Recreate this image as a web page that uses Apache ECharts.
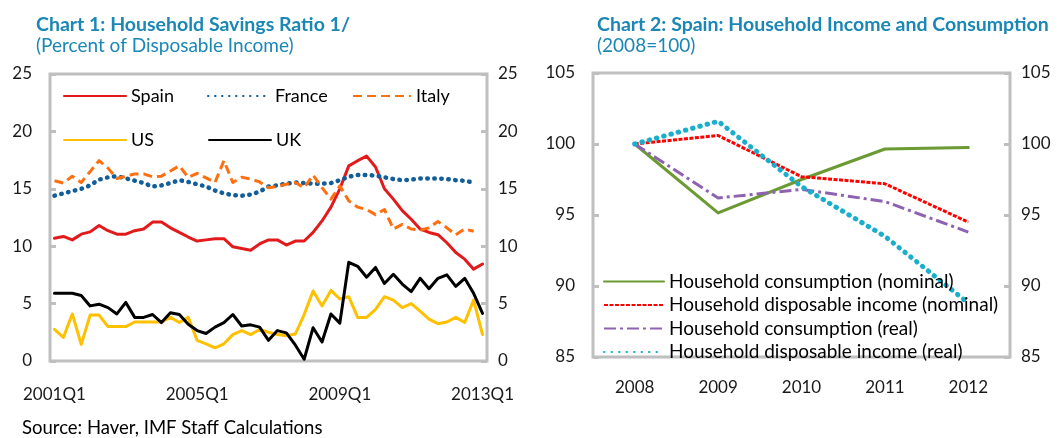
<!DOCTYPE html>
<html>
<head>
<meta charset="utf-8">
<title>Household Savings / Spain Income and Consumption</title>
<script src="https://cdn.jsdelivr.net/npm/echarts@6/dist/echarts.min.js"></script>
<style>
    html, body { margin: 0; padding: 0; background: #fff; }
    #chart { width: 1062px; height: 438px; }
</style>
</head>
<body>
<div id="chart"></div>
<script>
// chart 1: quarterly savings ratio, 2001Q1 - 2013Q1
var quarters = [
    '2001Q1','2001Q2','2001Q3','2001Q4','2002Q1','2002Q2','2002Q3','2002Q4',
    '2003Q1','2003Q2','2003Q3','2003Q4','2004Q1','2004Q2','2004Q3','2004Q4',
    '2005Q1','2005Q2','2005Q3','2005Q4','2006Q1','2006Q2','2006Q3','2006Q4',
    '2007Q1','2007Q2','2007Q3','2007Q4','2008Q1','2008Q2','2008Q3','2008Q4',
    '2009Q1','2009Q2','2009Q3','2009Q4','2010Q1','2010Q2','2010Q3','2010Q4',
    '2011Q1','2011Q2','2011Q3','2011Q4','2012Q1','2012Q2','2012Q3','2012Q4',
    '2013Q1'
];
var spain = [10.7, 10.85, 10.55, 11.05, 11.25, 11.8, 11.35, 11.05, 11.05, 11.35, 11.5, 12.1, 12.1,
    11.6, 11.2, 10.8, 10.45, 10.55, 10.65, 10.65, 9.95, 9.8, 9.65, 10.2, 10.55,
    10.55, 10.1, 10.45, 10.45, 11.2, 12.2, 13.4, 15.0, 17.0, 17.45, 17.85, 16.9,
    15.0, 14.1, 13.1, 12.35, 11.5, 11.2, 11.0, 10.3, 9.45, 8.87, 8.0, 8.45];
var france = [14.4, 14.6, 14.8, 15.0, 15.3, 15.8, 16.0, 16.1, 15.9, 15.7, 15.5, 15.2, 15.3,
    15.5, 15.75, 15.6, 15.4, 15.2, 14.85, 14.6, 14.45, 14.4, 14.5, 14.75, 15.2,
    15.3, 15.45, 15.55, 15.5, 15.45, 15.45, 15.5, 15.75, 16.05, 16.2, 16.2, 16.15,
    16.0, 15.85, 15.75, 15.8, 15.9, 15.9, 15.9, 15.85, 15.75, 15.7, 15.55, null];
var italy = [15.7, 15.5, 16.1, 15.55, 16.5, 17.45, 16.8, 15.9, 16.1, 16.3, 16.3, 16.05, 16.1,
    16.55, 17.0, 16.0, 16.35, 15.95, 15.55, 17.45, 15.55, 16.0, 15.85, 15.6, 15.1,
    15.2, 15.4, 15.55, 15.1, 16.2, 15.1, 14.1, 15.25, 13.95, 13.4, 13.2, 12.75,
    13.2, 11.5, 11.9, 11.5, 11.4, 11.6, 12.15, 11.6, 11.0, 11.5, 11.3, null];
var us = [2.75, 2.05, 4.1, 1.45, 4.0, 4.0, 3.0, 3.0, 3.0, 3.4, 3.4, 3.4, 3.4,
    3.8, 3.35, 3.8, 1.8, 1.5, 1.15, 1.5, 2.3, 2.65, 2.3, 2.75, 2.5,
    2.3, 2.2, 2.35, 4.05, 6.1, 4.8, 6.15, 5.4, 5.6, 3.8, 3.8, 4.5,
    5.6, 5.3, 4.65, 5.0, 4.35, 3.65, 3.25, 3.4, 3.8, 3.35, 5.3, 2.3];
var uk = [5.9, 5.9, 5.9, 5.7, 4.8, 4.95, 4.65, 4.1, 5.1, 3.8, 3.8, 4.05, 3.35,
    4.2, 4.05, 3.2, 2.65, 2.4, 2.95, 3.35, 4.05, 3.05, 3.15, 2.95, 1.8,
    2.65, 2.45, 1.4, 0.15, 2.9, 1.65, 4.1, 3.3, 8.6, 8.25, 7.3, 8.15,
    6.75, 7.55, 6.7, 6.05, 7.2, 6.3, 7.2, 7.5, 6.5, 7.2, 5.9, 4.15];

// chart 2: Spain, 2008 = 100
var years = ['2008', '2009', '2010', '2011', '2012'];
var consNominal = [100, 95.15, 97.5, 99.65, 99.75];
var incomeNominal = [100, 100.6, 97.7, 97.2, 94.5];
var consReal = [100, 96.2, 96.8, 95.95, 93.8];
var incomeReal = [100, 101.6, 97.0, 93.5, 88.8];

var font = 'Lato, "Open Sans", sans-serif';
var titleColor = '#1A87B5';
var borderGrey = '#BFBFBF';

function valueAxis(grid, pos, min, max) {
    return {
        type: 'value',
        gridIndex: grid,
        position: pos,
        min: min,
        max: max,
        interval: 5,
        splitLine: {show: false},
        axisLine: {show: false},
        axisTick: {show: true, inside: true, length: 6, lineStyle: {color: borderGrey, width: 3}},
        axisLabel: {
            margin: pos == 'left' ? 18 : 11,
            color: '#1a1a1a',
            fontFamily: font,
            fontSize: 17
        }
    };
}

function lineSeries(name, data, color, width, type, cap, x, y) {
    return {
        name: name,
        type: 'line',
        xAxisIndex: x,
        yAxisIndex: y,
        data: data,
        symbol: 'none',
        smooth: false,
        connectNulls: false,
        lineStyle: {color: color, width: width, type: type, cap: cap, join: 'round'},
        itemStyle: {color: color},
        emphasis: {disabled: true}
    };
}

// legend symbol hidden, only the line sample is kept
function legendAt(name, left, top, width) {
    return {
        data: [name],
        left: left,
        top: top,
        padding: 0,
        itemWidth: width,
        itemHeight: 14,
        itemStyle: {opacity: 0},
        selectedMode: false,
        textStyle: {fontFamily: font, fontSize: 18, color: '#000'}
    };
}

var chart = echarts.init(document.getElementById('chart'));

var option = {
    backgroundColor: '#ffffff',
    animation: false,
    title: [
        {text: 'Chart 1: Household Savings Ratio 1/', left: 36, top: 15, padding: 0,
            textStyle: {color: titleColor, fontFamily: font, fontSize: 19.5, fontWeight: 'bold'}},
        {text: '(Percent of Disposable Income)', left: 36, top: 36, padding: 0,
            textStyle: {color: titleColor, fontFamily: font, fontSize: 19, fontWeight: 'normal'}},
        {text: 'Chart 2: Spain: Household Income and Consumption', left: 597, top: 15, padding: 0,
            textStyle: {color: titleColor, fontFamily: font, fontSize: 19.5, fontWeight: 'bold'}},
        {text: '(2008=100)', left: 597, top: 36, padding: 0,
            textStyle: {color: titleColor, fontFamily: font, fontSize: 19, fontWeight: 'normal'}},
        {text: 'Source: Haver, IMF Staff Calculations', left: 22, top: 419, padding: 0,
            textStyle: {color: '#000', fontFamily: font, fontSize: 18.5, fontWeight: 'normal'}}
    ],
    legend: [
        legendAt('Spain', 63, 87, 62),
        legendAt('France', 207, 87, 62),
        legendAt('Italy', 352, 87, 58),
        legendAt('US', 63, 131, 62),
        legendAt('UK', 208, 131, 62),
        {
            data: ['Household consumption (nominal)', 'Household disposable income (nominal)',
                'Household consumption (real)', 'Household disposable income (real)'],
            orient: 'vertical',
            left: 603,
            top: 272,
            padding: 0,
            itemWidth: 60,
            itemHeight: 14,
            itemGap: 4.5,
            itemStyle: {opacity: 0},
            selectedMode: false,
            textStyle: {fontFamily: font, fontSize: 19, color: '#000', lineHeight: 18}
        }
    ],
    grid: [
        {left: 50, right: 575, top: 74, bottom: 77, show: true, borderColor: borderGrey, borderWidth: 3},
        {left: 593, right: 52, top: 73, bottom: 81, show: true, borderColor: borderGrey, borderWidth: 3}
    ],
    xAxis: [
        {
            type: 'category',
            gridIndex: 0,
            data: quarters,
            boundaryGap: true,
            axisLine: {show: false},
            axisTick: {show: false},
            axisLabel: {interval: 15, margin: 25, color: '#1a1a1a', fontFamily: font, fontSize: 17}
        },
        {
            type: 'category',
            gridIndex: 1,
            data: years,
            boundaryGap: true,
            axisLine: {show: false},
            axisTick: {show: false},
            axisLabel: {margin: 22, color: '#1a1a1a', fontFamily: font, fontSize: 17}
        }
    ],
    yAxis: [
        valueAxis(0, 'left', 0, 25),
        valueAxis(0, 'right', 0, 25),
        valueAxis(1, 'left', 85, 105),
        valueAxis(1, 'right', 85, 105)
    ],
    series: [
        lineSeries('Spain', spain, '#E31A1C', 3, 'solid', 'round', 0, 0),
        lineSeries('France', france, '#125E9A', 4.5, [0.5, 6.5], 'round', 0, 0),
        lineSeries('Italy', italy, '#FF6F10', 3, [9, 5], 'butt', 0, 0),
        lineSeries('US', us, '#FFC000', 3, 'solid', 'round', 0, 0),
        lineSeries('UK', uk, '#000000', 3, 'solid', 'round', 0, 0),
        lineSeries('Household consumption (nominal)', consNominal, '#6B9A33', 3, 'solid', 'round', 1, 2),
        lineSeries('Household disposable income (nominal)', incomeNominal, '#FF0000', 3, [4, 1.5], 'butt', 1, 2),
        lineSeries('Household consumption (real)', consReal, '#8E62B0', 3, [12, 4, 3, 4], 'butt', 1, 2),
        lineSeries('Household disposable income (real)', incomeReal, '#19AFCC', 5, [0.5, 7], 'round', 1, 2)
    ]
};

chart.setOption(option);

window.onresize = function () {
    chart.resize();
};
</script>
</body>
</html>
